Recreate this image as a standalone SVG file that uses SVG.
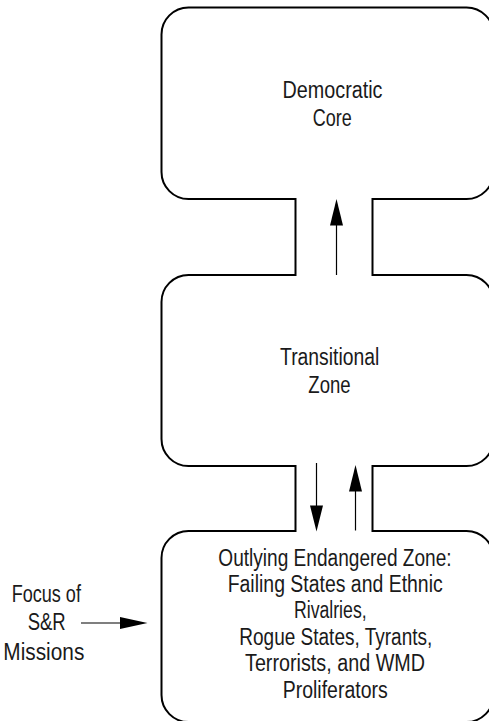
<svg xmlns="http://www.w3.org/2000/svg" width="489" height="721" viewBox="0 0 489 721">
<style>
.box{fill:none;stroke:#000;stroke-width:2;stroke-linejoin:miter}
.wall{fill:none;stroke:#000;stroke-width:2}
.arr{stroke:#000;stroke-width:1.2;fill:none}
.head{fill:#000;stroke:none}
text{font-family:"Liberation Sans Narrow","Liberation Sans",Arial,sans-serif;font-size:23px;fill:#1a1a1a;text-anchor:middle}
</style>
<rect width="489" height="721" fill="#fff"/>
<g id="democratic-core">
<path class="box" d="M295.5,199 H188.5 A27,27 0 0 1 161.5,172 V34.5 A27,27 0 0 1 188.5,7.5 H466.5 A27,27 0 0 1 493.5,34.5 V172 A27,27 0 0 1 466.5,199 H372.5"/>
<text x="332.5" y="97.7" textLength="100" lengthAdjust="spacingAndGlyphs">Democratic</text>
<text x="332.2" y="126" textLength="39" lengthAdjust="spacingAndGlyphs">Core</text>
</g>
<g id="transitional-zone">
<path class="box" d="M295.5,275 H188.5 A27,27 0 0 0 161.5,302 V439 A27,27 0 0 0 188.5,466 H295.5 M372.5,466 H466.5 A27,27 0 0 0 493.5,439 V302 A27,27 0 0 0 466.5,275 H372.5"/>
<text x="329.7" y="365" textLength="99.3" lengthAdjust="spacingAndGlyphs">Transitional</text>
<text x="329.5" y="393.3" textLength="42.3" lengthAdjust="spacingAndGlyphs">Zone</text>
</g>
<g id="outlying-zone">
<path class="box" d="M295.5,531 H188.5 A27,27 0 0 0 161.5,558 V695 A27,27 0 0 0 188.5,722 H466.5 A27,27 0 0 0 493.5,695 V558 A27,27 0 0 0 466.5,531 H372.5"/>
<text x="335" y="565.7" textLength="233.3" lengthAdjust="spacingAndGlyphs">Outlying Endangered Zone:</text>
<text x="335.2" y="592.3" textLength="215" lengthAdjust="spacingAndGlyphs">Failing States and Ethnic</text>
<text x="330.3" y="618.3" textLength="72.7" lengthAdjust="spacingAndGlyphs">Rivalries,</text>
<text x="335.8" y="645" textLength="193" lengthAdjust="spacingAndGlyphs">Rogue States, Tyrants,</text>
<text x="335" y="671" textLength="180" lengthAdjust="spacingAndGlyphs">Terrorists, and WMD</text>
<text x="335.2" y="697.7" textLength="105" lengthAdjust="spacingAndGlyphs">Proliferators</text>
</g>
<g id="focus-label">
<text x="46.3" y="601.7" textLength="69.3" lengthAdjust="spacingAndGlyphs">Focus of</text>
<text x="46.7" y="630" textLength="38" lengthAdjust="spacingAndGlyphs">S&amp;R</text>
<text x="43.8" y="660" textLength="81" lengthAdjust="spacingAndGlyphs">Missions</text>
</g>
<g id="connectors">
<path class="wall" d="M295.5,198 V276 M372.5,198 V276 M295.5,465 V532 M372.5,465 V532"/>
<line class="arr" x1="336.5" y1="275" x2="336.5" y2="224"/>
<polygon class="head" points="336.5,199 330,225.5 343,225.5"/>
<line class="arr" x1="316.5" y1="463" x2="316.5" y2="507"/>
<polygon class="head" points="316.5,531.5 310,505.5 323,505.5"/>
<line class="arr" x1="355.5" y1="530.5" x2="355.5" y2="490"/>
<polygon class="head" points="355.5,465 349,491.5 362,491.5"/>
<line class="arr" x1="81" y1="623" x2="121" y2="623"/>
<polygon class="head" points="147.5,623 120,617 120,629"/>
</g>
</svg>
